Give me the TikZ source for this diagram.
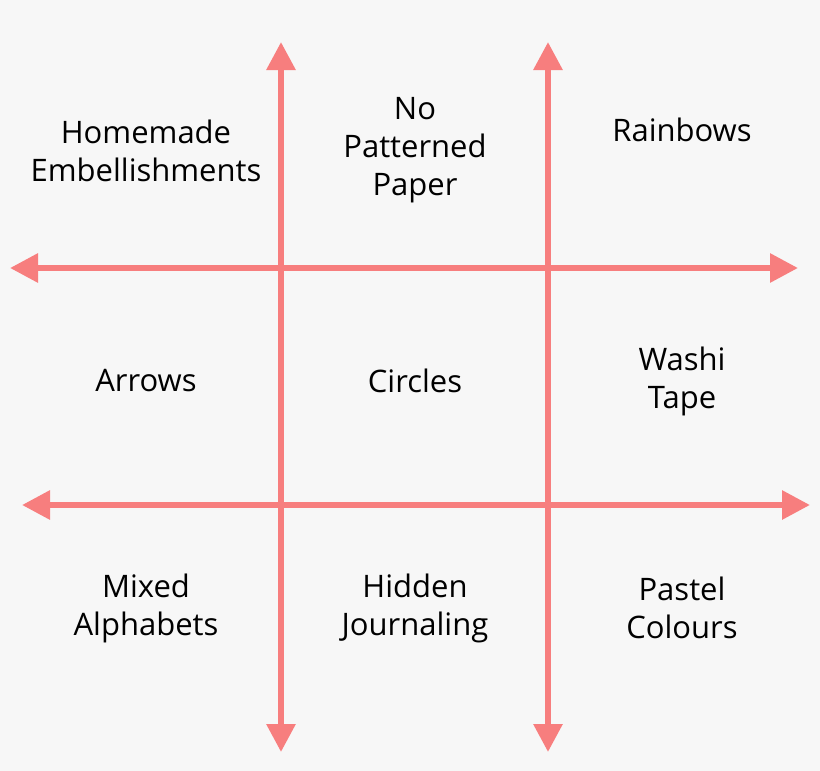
\documentclass[tikz,border=0pt]{standalone}
\usepackage{fontspec}
\setmainfont{Open Sans}
\usetikzlibrary{arrows.meta}
\definecolor{ax}{HTML}{F77E7E}
\definecolor{bg}{HTML}{F7F7F7}
\begin{document}
\begin{tikzpicture}[x=1pt,y=-1pt,
  axis/.style={draw=ax,line width=6pt,{Triangle[length=28pt,width=28pt]}-{Triangle[length=28pt,width=28pt]}},
  lab/.style={align=center,font=\fontsize{31}{38}\selectfont}]
\fill[bg] (0,0) rectangle (820,771);
\useasboundingbox (0,0) rectangle (820,771);
\coordinate (v1a) at (281,752); \coordinate (v1b) at (281,42);
\coordinate (v2a) at (548,752); \coordinate (v2b) at (548,42);
\coordinate (h1l) at (10,268); \coordinate (h1r) at (798,268);
\coordinate (h2l) at (22,505); \coordinate (h2r) at (810,505);
\draw[axis] (v1a) -- (v1b);
\draw[axis] (v2a) -- (v2b);
\draw[axis] (h1l) -- (h1r);
\draw[axis] (h2l) -- (h2r);
\node[lab] (a) at (146,151) {Homemade\\Embellishments};
\node[lab] (b) at (415,150) {No\\Patterned\\Paper};
\node[lab] (c) at (682,130) {Rainbows};
\node[lab] (d) at (146,381) {Arrows};
\node[lab] (e) at (415,381) {Circles};
\node[lab] (f) at (682,381) {Washi\\Tape};
\node[lab] (g) at (146,608) {Mixed\\Alphabets};
\node[lab] (h) at (415,608) {Hidden\\Journaling};
\node[lab] (i) at (682,608) {Pastel\\Colours};
\end{tikzpicture}
\end{document}
